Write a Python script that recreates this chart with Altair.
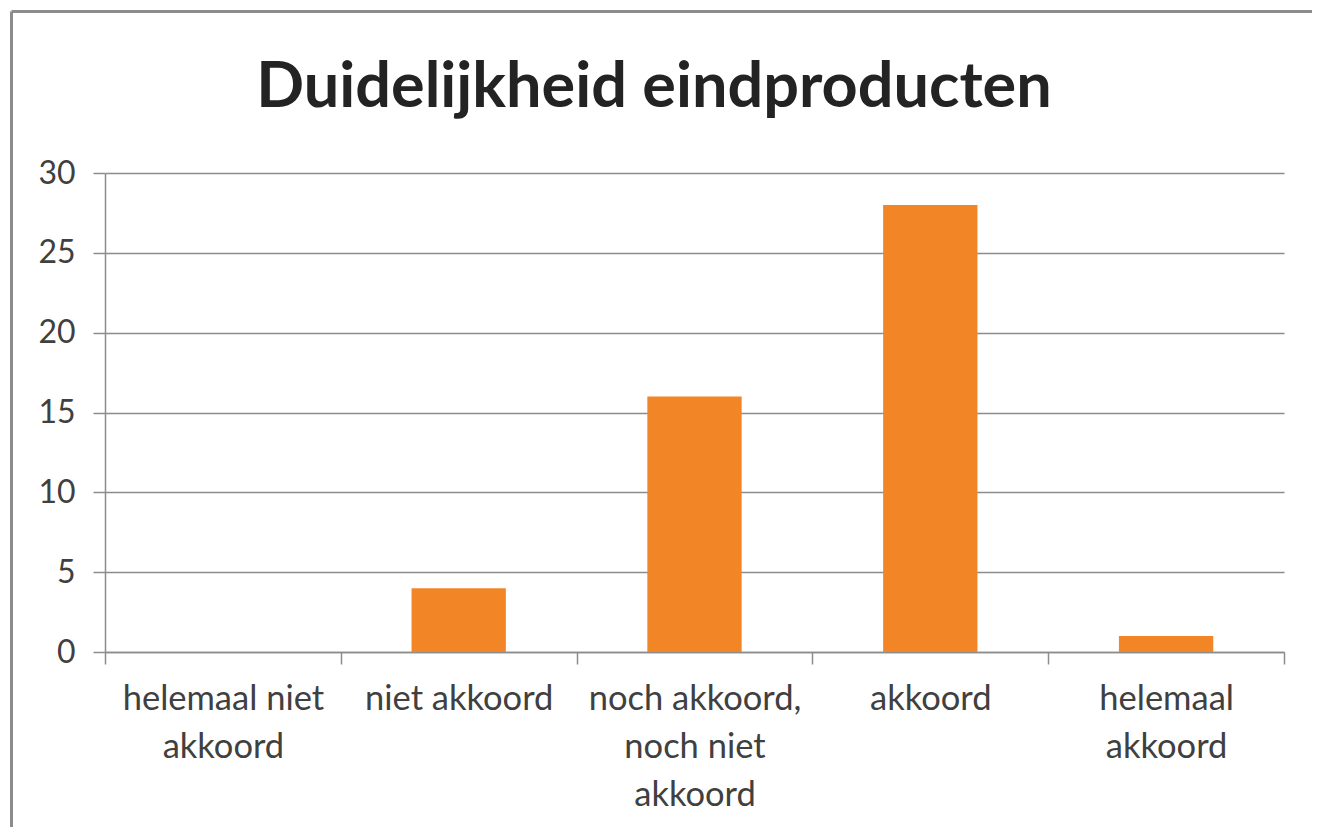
import altair as alt
import pandas as pd

title_text = "Duidelijkheid eindproducten"
categories = [
    "helemaal niet akkoord",
    "niet akkoord",
    "noch akkoord, noch niet akkoord",
    "akkoord",
    "helemaal akkoord",
]
label_lines = [
    ["helemaal niet", "akkoord"],
    ["niet akkoord"],
    ["noch akkoord,", "noch niet", "akkoord"],
    ["akkoord"],
    ["helemaal", "akkoord"],
]
values = [0, 4, 16, 28, 1]
y_ticks = [0, 5, 10, 15, 20, 25, 30]

df = pd.DataFrame({"categorie": categories, "aantal": values})


def js_list(lines):
    return "[" + ",".join("'" + s.replace("'", "\\'") + "'" for s in lines) + "]"


expr = "datum.label"
for cat, lines in reversed(list(zip(categories, label_lines))):
    expr = f"datum.label == '{cat}' ? {js_list(lines)} : ({expr})"

FONT = "Lato"
GRID = "#8c8c8c"
TEXT = "#404040"

bars = alt.Chart(df).mark_bar(width=alt.RelativeBandSize(0.4), color="#F28626").encode(
    x=alt.X(
        "categorie:N",
        sort=categories,
        scale=alt.Scale(paddingInner=0, paddingOuter=0),
        axis=alt.Axis(
            title=None,
            labelAngle=0,
            labelExpr=expr,
            labelLimit=0,
            tickBand="extent",
            tickSize=12,
            tickColor=GRID,
            tickWidth=1.5,
            domainColor=GRID,
            domainWidth=1.5,
            labelFont=FONT,
            labelFontSize=34.5,
            labelColor=TEXT,
            labelLineHeight=48,
            labelPadding=18,
            grid=False,
        ),
    ),
    y=alt.Y(
        "aantal:Q",
        scale=alt.Scale(domain=[0, 30], nice=False),
        axis=alt.Axis(
            title=None,
            values=y_ticks,
            grid=True,
            gridColor=GRID,
            gridWidth=1.5,
            tickSize=12,
            tickColor=GRID,
            tickWidth=1.5,
            domainColor=GRID,
            domainWidth=1.5,
            labelFont=FONT,
            labelFontSize=32,
            labelColor=TEXT,
            labelPadding=18,
        ),
    ),
)

frame_df = pd.DataFrame({"titel": [title_text]})
top_line = alt.Chart(frame_df).mark_rule(color="#8c8c8c", strokeWidth=3, clip=False).encode(
    x=alt.value(-93.5), x2=alt.value(1240), y=alt.value(-161.5)
)
left_line = alt.Chart(frame_df).mark_rule(color="#8c8c8c", strokeWidth=3, clip=False).encode(
    x=alt.value(-93.5), y=alt.value(-161.5), y2=alt.value(700)
)
title_mark = alt.Chart(frame_df).mark_text(
    font=FONT,
    fontSize=63,
    fontWeight="bold",
    color="#232323",
    align="center",
    baseline="alphabetic",
    clip=False,
).encode(text="titel:N", x=alt.value(549), y=alt.value(-66))

chart = (
    alt.layer(bars, top_line, left_line, title_mark)
    .properties(
        width=1179,
        height=479,
        autosize=alt.AutoSizeParams(type="none"),
        padding={"left": 97, "top": 165, "right": 28, "bottom": 175},
    )
    .configure_view(stroke=None)
)

chart.save("out.html", embed_options={"renderer": "svg", "actions": False})
